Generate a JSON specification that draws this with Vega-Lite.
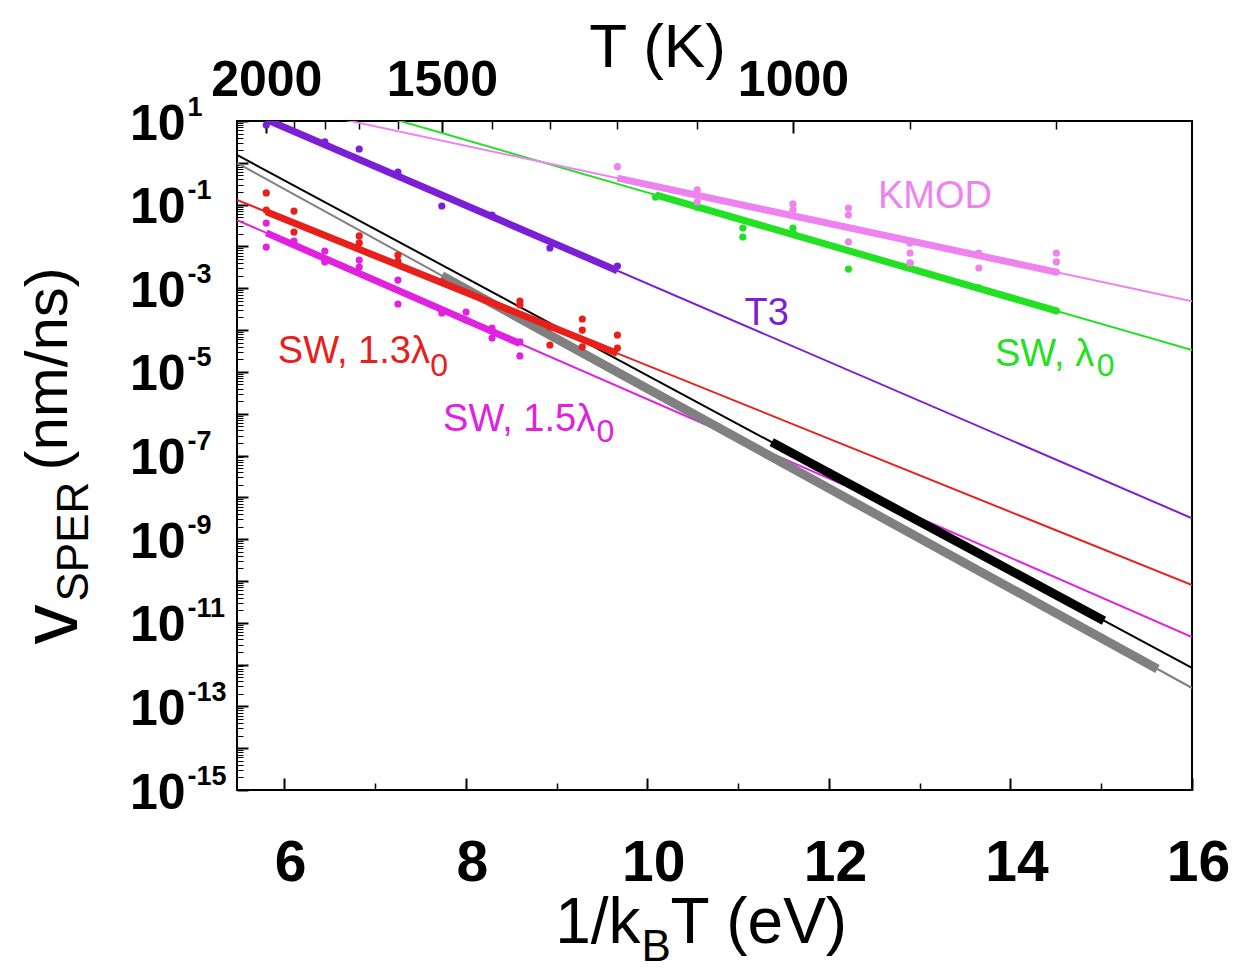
{
  "$schema": "https://vega.github.io/schema/vega-lite/v6.json",
  "autosize": {"type": "none"},
  "padding": {"left": 237, "top": 121, "right": 46, "bottom": 180},
  "width": 955,
  "height": 669,
  "background": "white",
  "view": {"stroke": "black", "strokeWidth": 2},
  "config": {
    "axis": {"domain": false, "grid": false, "labelColor": "black", "tickColor": "black", "titleColor": "black", "labelFlush": false, "labelOverlap": false, "titleFont": "Liberation Sans", "titleFontWeight": "normal", "labelFont": "Liberation Sans", "labelFontWeight": "bold"},
    "text": {"font": "Liberation Sans"}
  },
  "datasets": {
    "fits": [
      {"s": "gray fit", "x": 5.48, "v": 0.989}, {"s": "gray fit", "x": 16, "v": 2.75e-13},
      {"s": "black fit", "x": 5.48, "v": 1.54}, {"s": "black fit", "x": 16, "v": 8.32e-13},
      {"s": "SW, 1.3λ0", "x": 5.48, "v": 0.129}, {"s": "SW, 1.3λ0", "x": 16, "v": 7.94e-11},
      {"s": "SW, 1.5λ0", "x": 5.48, "v": 0.0427}, {"s": "SW, 1.5λ0", "x": 16, "v": 4.57e-12},
      {"s": "T3", "x": 5.48, "v": 21.9}, {"s": "T3", "x": 16, "v": 3.16e-9},
      {"s": "SW, λ0", "x": 5.48, "v": 135}, {"s": "SW, λ0", "x": 16, "v": 3.31e-5},
      {"s": "KMOD", "x": 5.48, "v": 38.0}, {"s": "KMOD", "x": 16, "v": 4.9e-4}
    ],
    "segs": [
      {"s": "gray fit", "x": 7.73635, "v": 2.0e-3}, {"s": "gray fit", "x": 15.62, "v": 7.83e-13},
      {"s": "black fit", "x": 11.37, "v": 2.09e-7}, {"s": "black fit", "x": 15.03, "v": 1.12e-11},
      {"s": "SW, 1.3λ0", "x": 5.80226, "v": 0.0673}, {"s": "SW, 1.3λ0", "x": 9.67044, "v": 2.76e-5},
      {"s": "SW, 1.5λ0", "x": 5.80226, "v": 0.0211}, {"s": "SW, 1.5λ0", "x": 8.5963, "v": 4.75e-5},
      {"s": "T3", "x": 5.80226, "v": 10.9}, {"s": "T3", "x": 9.67044, "v": 2.63e-3},
      {"s": "SW, λ0", "x": 10.0909, "v": 0.171}, {"s": "SW, λ0", "x": 14.5057, "v": 2.88e-4},
      {"s": "KMOD", "x": 9.67044, "v": 0.429}, {"s": "KMOD", "x": 14.5057, "v": 2.43e-3}
    ],
    "points": [
      {"s": "T3", "x": 5.80226, "v": 8.02}, {"s": "T3", "x": 6.44696, "v": 3.15}, {"s": "T3", "x": 6.8262, "v": 2.14},
      {"s": "T3", "x": 7.25283, "v": 0.603}, {"s": "T3", "x": 7.73635, "v": 0.0927}, {"s": "T3", "x": 8.28895, "v": 0.0565},
      {"s": "T3", "x": 8.92656, "v": 9.18e-3}, {"s": "T3", "x": 9.67044, "v": 3.40e-3},
      {"s": "SW, 1.3λ0", "x": 5.80226, "v": 0.19}, {"s": "SW, 1.3λ0", "x": 5.80226, "v": 0.0743},
      {"s": "SW, 1.3λ0", "x": 6.10765, "v": 0.0703}, {"s": "SW, 1.3λ0", "x": 6.10765, "v": 0.0221},
      {"s": "SW, 1.3λ0", "x": 6.8262, "v": 0.0178}, {"s": "SW, 1.3λ0", "x": 6.8262, "v": 0.0121},
      {"s": "SW, 1.3λ0", "x": 7.25283, "v": 6.24e-3}, {"s": "SW, 1.3λ0", "x": 7.25283, "v": 4.47e-3},
      {"s": "SW, 1.3λ0", "x": 7.73635, "v": 1.41e-3},
      {"s": "SW, 1.3λ0", "x": 8.5963, "v": 4.95e-4}, {"s": "SW, 1.3λ0", "x": 8.5963, "v": 3.98e-4},
      {"s": "SW, 1.3λ0", "x": 8.92656, "v": 1.18e-4}, {"s": "SW, 1.3λ0", "x": 8.92656, "v": 4.39e-5},
      {"s": "SW, 1.3λ0", "x": 9.28358, "v": 1.84e-4}, {"s": "SW, 1.3λ0", "x": 9.28358, "v": 1.0e-4}, {"s": "SW, 1.3λ0", "x": 9.28358, "v": 3.94e-5},
      {"s": "SW, 1.3λ0", "x": 9.67044, "v": 7.62e-5}, {"s": "SW, 1.3λ0", "x": 9.67044, "v": 3.72e-5},
      {"s": "SW, 1.5λ0", "x": 5.80226, "v": 0.0363}, {"s": "SW, 1.5λ0", "x": 5.80226, "v": 9.68e-3},
      {"s": "SW, 1.5λ0", "x": 6.10765, "v": 0.0135},
      {"s": "SW, 1.5λ0", "x": 6.44696, "v": 7.78e-3}, {"s": "SW, 1.5λ0", "x": 6.44696, "v": 4.25e-3},
      {"s": "SW, 1.5λ0", "x": 6.8262, "v": 4.73e-3}, {"s": "SW, 1.5λ0", "x": 6.8262, "v": 3.22e-3},
      {"s": "SW, 1.5λ0", "x": 7.25283, "v": 1.57e-3}, {"s": "SW, 1.5λ0", "x": 7.25283, "v": 4.2e-4},
      {"s": "SW, 1.5λ0", "x": 7.73635, "v": 2.56e-4},
      {"s": "SW, 1.5λ0", "x": 8.00314, "v": 2.69e-4}, {"s": "SW, 1.5λ0", "x": 8.00314, "v": 1.74e-4},
      {"s": "SW, 1.5λ0", "x": 8.28895, "v": 1.12e-4}, {"s": "SW, 1.5λ0", "x": 8.28895, "v": 6.46e-5},
      {"s": "SW, 1.5λ0", "x": 8.5963, "v": 5.19e-5}, {"s": "SW, 1.5λ0", "x": 8.5963, "v": 2.4e-5},
      {"s": "SW, λ0", "x": 10.0909, "v": 0.152}, {"s": "SW, λ0", "x": 10.5496, "v": 0.0871},
      {"s": "SW, λ0", "x": 11.0519, "v": 0.0276}, {"s": "SW, λ0", "x": 11.0519, "v": 0.0168},
      {"s": "SW, λ0", "x": 11.6045, "v": 0.0276}, {"s": "SW, λ0", "x": 11.6045, "v": 0.0209},
      {"s": "SW, λ0", "x": 12.2153, "v": 2.88e-3}, {"s": "SW, λ0", "x": 12.8939, "v": 3.98e-3},
      {"s": "SW, λ0", "x": 13.6524, "v": 1.02e-3}, {"s": "SW, λ0", "x": 14.5057, "v": 2.88e-4},
      {"s": "KMOD", "x": 9.67044, "v": 0.807},
      {"s": "KMOD", "x": 10.5496, "v": 0.224}, {"s": "KMOD", "x": 10.5496, "v": 0.116},
      {"s": "KMOD", "x": 11.6045, "v": 0.104}, {"s": "KMOD", "x": 11.6045, "v": 0.0743},
      {"s": "KMOD", "x": 12.2153, "v": 0.083}, {"s": "KMOD", "x": 12.2153, "v": 0.0565}, {"s": "KMOD", "x": 12.2153, "v": 0.0128},
      {"s": "KMOD", "x": 12.8939, "v": 0.0121}, {"s": "KMOD", "x": 12.8939, "v": 6.97e-3}, {"s": "KMOD", "x": 12.8939, "v": 4.02e-3},
      {"s": "KMOD", "x": 13.6524, "v": 6.97e-3}, {"s": "KMOD", "x": 13.6524, "v": 3.05e-3},
      {"s": "KMOD", "x": 14.5057, "v": 6.97e-3}, {"s": "KMOD", "x": 14.5057, "v": 4.25e-3}, {"s": "KMOD", "x": 14.5057, "v": 2.44e-3}
    ],
    "labels": [
      {"s": "KMOD", "t": "KMOD", "x": 12.54, "v": 0.083},
      {"s": "T3", "t": "T3", "x": 11.07, "v": 1.32e-4},
      {"s": "SW, λ0", "t": "SW, λ", "x": 13.83, "v": 1.38e-5},
      {"s": "SW, 1.3λ0", "t": "SW, 1.3λ", "x": 5.93, "v": 1.63e-5},
      {"s": "SW, 1.5λ0", "t": "SW, 1.5λ", "x": 7.75, "v": 3.85e-7}
    ],
    "subs": [
      {"s": "SW, λ0", "t": "0", "x": 14.95, "v": 7.96e-6},
      {"s": "SW, 1.3λ0", "t": "0", "x": 7.61, "v": 7.96e-6},
      {"s": "SW, 1.5λ0", "t": "0", "x": 9.44, "v": 2.1e-7}
    ]
  },
  "resolve": {"axis": {"x": "independent", "y": "independent"}},
  "layer": [
    {
      "data": {"name": "fits"},
      "mark": {"type": "line", "strokeWidth": 2, "clip": true},
      "encoding": {
        "x": {"field": "x", "type": "quantitative", "scale": {"domain": [5.48, 16], "nice": false, "zero": false},
          "axis": {"orient": "bottom", "values": [6, 8, 10, 12, 14, 16], "ticks": false, "labelFontSize": 57, "labelBaseline": "alphabetic", "labelPadding": 90, "labelOffset": 6,
            "title": "1/k", "titleFontSize": 64, "titleX": 403, "titleY": 152, "titleAlign": "right", "titleBaseline": "alphabetic", "titleAngle": 0}},
        "y": {"field": "v", "type": "quantitative", "scale": {"type": "log", "domain": [1e-15, 10], "nice": false},
          "axis": {"orient": "left", "values": [10, 0.1, 0.001, 1e-5, 1e-7, 1e-9, 1e-11, 1e-13, 1e-15], "ticks": false, "labelExpr": "'10'", "labelFontSize": 50, "labelAlign": "right", "labelBaseline": "alphabetic", "labelOffset": 18, "labelPadding": 52,
            "title": "v", "titleFontSize": 80, "titleAngle": 270, "titleX": -161, "titleY": 523, "titleAlign": "left", "titleBaseline": "alphabetic"}},
        "color": {"field": "s", "type": "nominal", "legend": null,
          "scale": {"domain": ["KMOD", "SW, λ0", "T3", "SW, 1.3λ0", "SW, 1.5λ0", "black fit", "gray fit"], "range": ["#ee82ee", "#22e022", "#7b1fd6", "#e8201c", "#e022e0", "#000000", "#808080"]}}
      }
    },
    {
      "data": {"name": "segs"},
      "transform": [{"filter": "datum.s === 'gray fit' || datum.s === 'black fit'"}],
      "mark": {"type": "line", "strokeWidth": 9, "clip": true},
      "encoding": {
        "x": {"field": "x", "type": "quantitative", "scale": {"domain": [5.48, 16], "nice": false, "zero": false},
          "axis": {"orient": "bottom", "values": [6, 8, 10, 12, 14, 16], "labels": false, "tickSize": -12, "tickWidth": 2,
            "title": "B", "titleFontSize": 44, "titleX": 404, "titleY": 170, "titleAlign": "left", "titleBaseline": "alphabetic", "titleAngle": 0}},
        "y": {"field": "v", "type": "quantitative", "scale": {"type": "log", "domain": [1e-15, 10], "nice": false},
          "axis": {"orient": "left", "values": [10, 1, 0.1, 0.01, 0.001, 1e-4, 1e-5, 1e-6, 1e-7, 1e-8, 1e-9, 1e-10, 1e-11, 1e-12, 1e-13, 1e-14, 1e-15], "labels": false, "tickSize": -11, "tickWidth": 2,
            "title": "SPER", "titleFontSize": 44, "titleAngle": 270, "titleX": -150, "titleY": 480, "titleAlign": "left", "titleBaseline": "alphabetic"}},
        "color": {"field": "s", "type": "nominal", "legend": null,
          "scale": {"domain": ["KMOD", "SW, λ0", "T3", "SW, 1.3λ0", "SW, 1.5λ0", "black fit", "gray fit"], "range": ["#ee82ee", "#22e022", "#7b1fd6", "#e8201c", "#e022e0", "#000000", "#808080"]}}
      }
    },
    {
      "data": {"name": "segs"},
      "transform": [{"filter": "datum.s !== 'gray fit' && datum.s !== 'black fit'"}],
      "mark": {"type": "line", "strokeWidth": 7, "clip": true},
      "encoding": {
        "x": {"field": "x", "type": "quantitative", "scale": {"domain": [5.48, 16], "nice": false, "zero": false},
          "axis": {"orient": "bottom", "values": [7, 9, 11, 13, 15], "labels": false, "tickSize": -7, "tickWidth": 1.5,
            "title": "T (eV)", "titleFontSize": 64, "titleX": 433, "titleY": 152, "titleAlign": "left", "titleBaseline": "alphabetic", "titleAngle": 0}},
        "y": {"field": "v", "type": "quantitative", "scale": {"type": "log", "domain": [1e-15, 10], "nice": false},
          "axis": {"orient": "left", "values": [2e-15,3e-15,4e-15,5e-15,6e-15,7e-15,8e-15,9e-15,2e-14,3e-14,4e-14,5e-14,6e-14,7e-14,8e-14,9e-14,2e-13,3e-13,4e-13,5e-13,6e-13,7e-13,8e-13,9e-13,2e-12,3e-12,4e-12,5e-12,6e-12,7e-12,8e-12,9e-12,2e-11,3e-11,4e-11,5e-11,6e-11,7e-11,8e-11,9e-11,2e-10,3e-10,4e-10,5e-10,6e-10,7e-10,8e-10,9e-10,2e-9,3e-9,4e-9,5e-9,6e-9,7e-9,8e-9,9e-9,2e-8,3e-8,4e-8,5e-8,6e-8,7e-8,8e-8,9e-8,2e-7,3e-7,4e-7,5e-7,6e-7,7e-7,8e-7,9e-7,2e-6,3e-6,4e-6,5e-6,6e-6,7e-6,8e-6,9e-6,2e-5,3e-5,4e-5,5e-5,6e-5,7e-5,8e-5,9e-5,2e-4,3e-4,4e-4,5e-4,6e-4,7e-4,8e-4,9e-4,0.002,0.003,0.004,0.005,0.006,0.007,0.008,0.009,0.02,0.03,0.04,0.05,0.06,0.07,0.08,0.09,0.2,0.3,0.4,0.5,0.6,0.7,0.8,0.9,2,3,4,5,6,7,8,9], "labels": false, "tickSize": -6, "tickWidth": 1,
            "title": "(nm/ns)", "titleFontSize": 60, "titleAngle": 270, "titleX": -171, "titleY": 349, "titleAlign": "left", "titleBaseline": "alphabetic"}},
        "color": {"field": "s", "type": "nominal", "legend": null,
          "scale": {"domain": ["KMOD", "SW, λ0", "T3", "SW, 1.3λ0", "SW, 1.5λ0", "black fit", "gray fit"], "range": ["#ee82ee", "#22e022", "#7b1fd6", "#e8201c", "#e022e0", "#000000", "#808080"]}}
      }
    },
    {
      "data": {"name": "points"},
      "mark": {"type": "circle", "size": 52, "opacity": 1, "clip": true},
      "encoding": {
        "x": {"field": "x", "type": "quantitative", "scale": {"domain": [5.48, 16], "nice": false, "zero": false},
          "axis": {"orient": "top", "values": [5.80226, 7.73635, 11.6045], "ticks": false, "labelExpr": "datum.value < 6 ? '2000' : (datum.value < 9 ? '1500' : '1000')", "labelFontSize": 50, "labelBaseline": "alphabetic", "labelPadding": 26, "labelAlign": "center",
            "title": "T (K)", "titleFontSize": 62, "titleX": 420, "titleY": -55, "titleAlign": "center", "titleBaseline": "alphabetic", "titleAngle": 0}},
        "y": {"field": "v", "type": "quantitative", "scale": {"type": "log", "domain": [1e-15, 10], "nice": false},
          "axis": {"orient": "left", "values": [10, 0.1, 0.001, 1e-5, 1e-7, 1e-9, 1e-11, 1e-13, 1e-15], "ticks": false, "labelExpr": "'' + round(log(datum.value) / LN10)", "labelFontSize": 27, "labelAlign": "left", "labelBaseline": "alphabetic", "labelOffset": -6, "labelPadding": 50, "title": null}},
        "color": {"field": "s", "type": "nominal", "legend": null,
          "scale": {"domain": ["KMOD", "SW, λ0", "T3", "SW, 1.3λ0", "SW, 1.5λ0", "black fit", "gray fit"], "range": ["#ee82ee", "#22e022", "#7b1fd6", "#e8201c", "#e022e0", "#000000", "#808080"]}}
      }
    },
    {
      "data": {"name": "labels"},
      "mark": {"type": "text", "align": "left", "baseline": "alphabetic", "fontSize": 38},
      "encoding": {
        "x": {"field": "x", "type": "quantitative", "scale": {"domain": [5.48, 16], "nice": false, "zero": false},
          "axis": {"orient": "top", "values": [5.80226, 7.73635, 11.6045], "labels": false, "tickSize": -12, "tickWidth": 2, "title": null}},
        "y": {"field": "v", "type": "quantitative", "scale": {"type": "log", "domain": [1e-15, 10], "nice": false}, "axis": null},
        "text": {"field": "t"},
        "color": {"field": "s", "type": "nominal", "legend": null,
          "scale": {"domain": ["KMOD", "SW, λ0", "T3", "SW, 1.3λ0", "SW, 1.5λ0", "black fit", "gray fit"], "range": ["#ee82ee", "#22e022", "#7b1fd6", "#e8201c", "#e022e0", "#000000", "#808080"]}}
      }
    },
    {
      "data": {"name": "subs"},
      "mark": {"type": "text", "align": "left", "baseline": "alphabetic", "fontSize": 32},
      "encoding": {
        "x": {"field": "x", "type": "quantitative", "scale": {"domain": [5.48, 16], "nice": false, "zero": false},
          "axis": {"orient": "top", "values": [6.10765, 6.44696, 6.8262, 7.25283, 8.28895, 8.92656, 9.67044, 10.5496, 12.8939, 14.5057], "labels": false, "tickSize": -8, "tickWidth": 1.5, "title": null}},
        "y": {"field": "v", "type": "quantitative", "scale": {"type": "log", "domain": [1e-15, 10], "nice": false}, "axis": null},
        "text": {"field": "t"},
        "color": {"field": "s", "type": "nominal", "legend": null,
          "scale": {"domain": ["KMOD", "SW, λ0", "T3", "SW, 1.3λ0", "SW, 1.5λ0", "black fit", "gray fit"], "range": ["#ee82ee", "#22e022", "#7b1fd6", "#e8201c", "#e022e0", "#000000", "#808080"]}}
      }
    }
  ]
}
